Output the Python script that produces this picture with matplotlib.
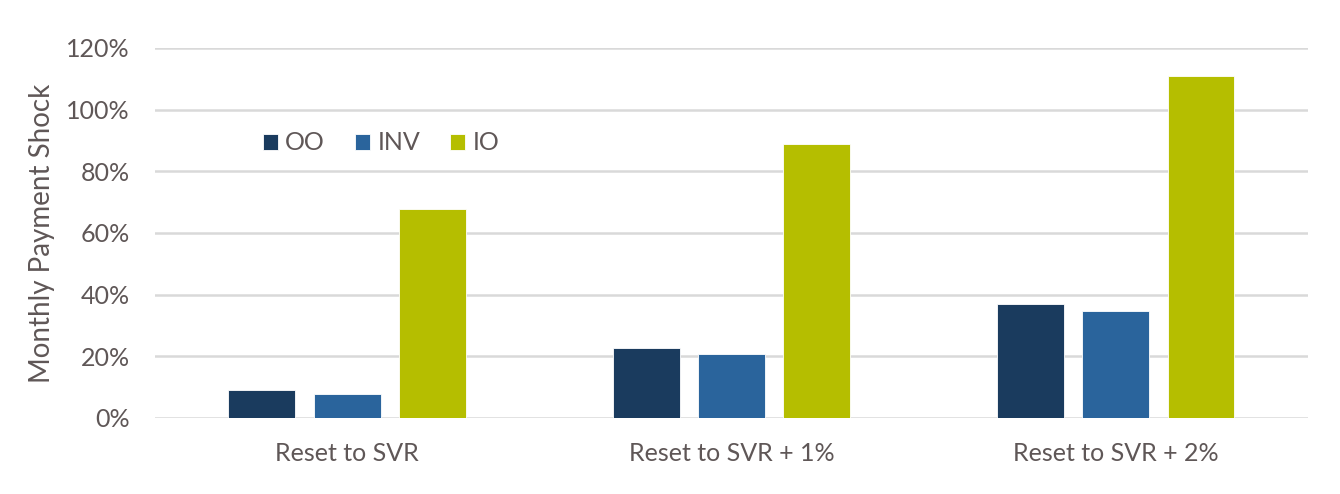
import numpy as np
import matplotlib.pyplot as plt
from matplotlib.ticker import PercentFormatter

categories = ['Reset to SVR', 'Reset to SVR + 1%', 'Reset to SVR + 2%']
series = ['OO', 'INV', 'IO']
oo = [9.1, 22.7, 37.0]
inv = [7.6, 20.8, 34.7]
io = [67.8, 88.9, 110.9]
colors = ['#1a3b5e', '#2a649c', '#b5be00']

plt.rcParams['font.family'] = ['Lato', 'DejaVu Sans']
text_color = '#5f5757'

fig = plt.figure(figsize=(13.4, 4.94), dpi=100)
ax = fig.add_axes([0.1157, 0.154, 0.8603, 0.749])

x = np.arange(len(categories))
width = 0.174
pitch = 0.222
for i, (vals, name) in enumerate(zip([oo, inv, io], series)):
    ax.bar(x + (i - 1) * pitch, vals, width, color=colors[i], label=name,
           edgecolor='#ffffff', linewidth=0.6, zorder=3)

ax.set_xlim(-0.5, 2.5)
ax.set_ylim(0, 120)
ax.set_yticks(np.arange(0, 121, 20))
ax.yaxis.set_major_formatter(PercentFormatter(decimals=0))
ax.set_xticks(x)
ax.set_xticklabels(categories)
ax.grid(axis='y', color='#d9d9d9', linewidth=1.8, zorder=0)
ax.set_axisbelow(True)
for s in ax.spines.values():
    s.set_visible(False)
ax.tick_params(axis='both', length=0, labelsize=18, labelcolor=text_color)
ax.tick_params(axis='y', pad=18)
ax.tick_params(axis='x', pad=17)
ax.set_ylabel('Monthly Payment Shock', fontsize=20, color=text_color, labelpad=8)

ax.legend(loc='upper left', bbox_to_anchor=(0.074, 0.835), ncol=3, frameon=False,
          fontsize=18, handlelength=0.6, handleheight=0.6, handletextpad=0.3,
          columnspacing=1.2, labelcolor=text_color)

fig.savefig('out.png', dpi=100)
